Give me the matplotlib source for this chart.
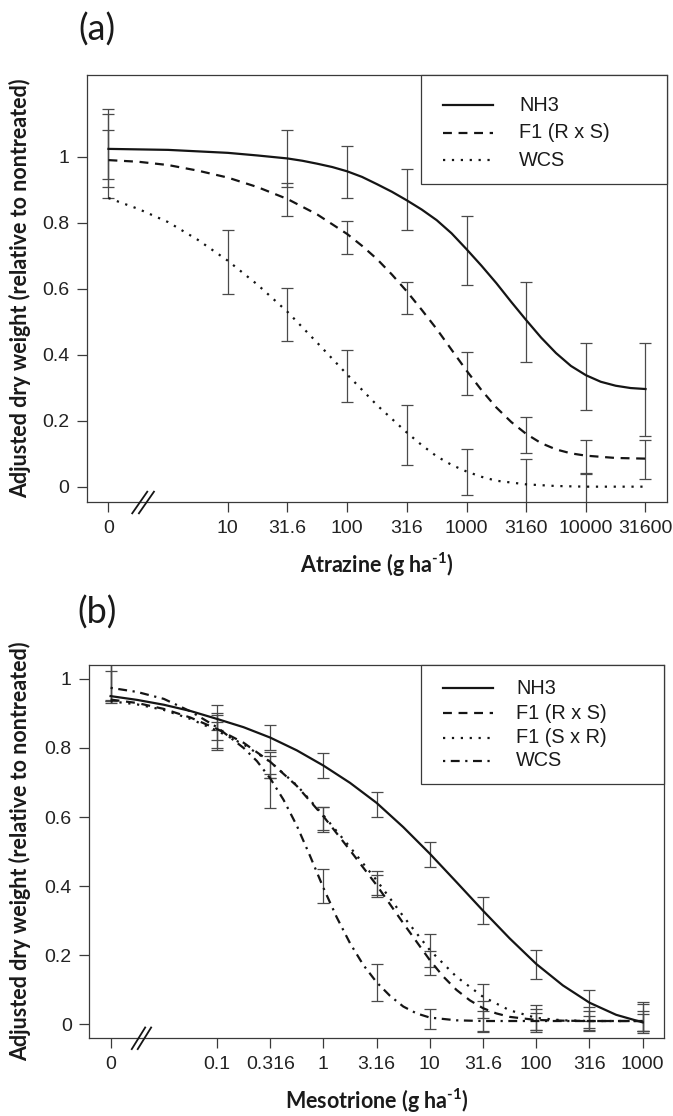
import numpy as np
import matplotlib
matplotlib.use("Agg")
import matplotlib.pyplot as plt
from matplotlib.lines import Line2D
from matplotlib.patches import Rectangle
from matplotlib.ticker import NullLocator
import matplotlib.transforms as mtransforms

W, H = 673, 1116

# ---------------- panel (a): atrazine ----------------
atz_dose = [0, 10, 31.6, 100, 316, 1000, 3160, 10000, 31600]
atz_ticklabels = ["0", "10", "31.6", "100", "316", "1000", "3160", "10000", "31600"]
atz_zero = 1.0  # where the 0 dose sits on the log axis

atz_nh3_mean = [1.027, np.nan, 0.994, 0.954, 0.870, 0.716, 0.499, 0.333, 0.294]
atz_nh3_se = [0.118, np.nan, 0.087, 0.080, 0.092, 0.104, 0.121, 0.102, 0.141]
atz_f1_mean = [1.007, np.nan, 0.872, 0.756, 0.572, 0.343, 0.157, 0.090, 0.083]
atz_f1_se = [0.074, np.nan, 0.050, 0.050, 0.048, 0.064, 0.055, 0.052, 0.059]
atz_wcs_mean = [1.003, 0.682, 0.523, 0.335, 0.157, 0.044, 0.000, -0.005, np.nan]
atz_wcs_se = [0.127, 0.097, 0.080, 0.078, 0.090, 0.070, 0.085, 0.045, np.nan]

# fitted curves (x = log10 dose)
atz_nh3_fit_x = [0, 0.5, 1, 1.25, 1.5, 1.625, 1.75, 1.875, 2, 2.125, 2.25, 2.375, 2.5,
                 2.625, 2.75, 2.875, 3, 3.125, 3.25, 3.375, 3.5, 3.625, 3.75, 3.875,
                 4, 4.125, 4.25, 4.375, 4.5]
atz_nh3_fit_y = [1.024, 1.021, 1.012, 1.004, 0.995, 0.988, 0.979, 0.969, 0.956, 0.939,
                 0.917, 0.894, 0.868, 0.840, 0.808, 0.768, 0.720, 0.670, 0.617, 0.560,
                 0.505, 0.452, 0.405, 0.366, 0.338, 0.318, 0.306, 0.299, 0.296]
atz_f1_fit_x = [0, 0.25, 0.5, 0.75, 1, 1.25, 1.5, 1.75, 2, 2.125, 2.25, 2.375, 2.5,
                2.625, 2.75, 2.875, 3, 3.125, 3.25, 3.375, 3.5, 3.625, 3.75, 3.875,
                4, 4.25, 4.5]
atz_f1_fit_y = [0.990, 0.985, 0.975, 0.958, 0.937, 0.908, 0.872, 0.825, 0.766, 0.730,
                0.690, 0.643, 0.592, 0.536, 0.478, 0.415, 0.352, 0.293, 0.240, 0.196,
                0.160, 0.132, 0.113, 0.101, 0.094, 0.087, 0.085]
atz_wcs_fit_x = [0, 0.25, 0.5, 0.75, 1, 1.25, 1.5, 1.75, 2, 2.25, 2.5, 2.625, 2.75,
                 2.875, 3, 3.125, 3.25, 3.5, 3.75, 4, 4.25, 4.5]
atz_wcs_fit_y = [0.875, 0.842, 0.802, 0.748, 0.685, 0.612, 0.530, 0.436, 0.340, 0.247,
                 0.164, 0.126, 0.092, 0.066, 0.046, 0.030, 0.018, 0.007, 0.002, 0.000,
                 0.000, 0.000]

# ---------------- panel (b): mesotrione ----------------
mes_dose = [0, 0.1, 0.316, 1, 3.16, 10, 31.6, 100, 316, 1000]
mes_ticklabels = ["0", "0.1", "0.316", "1", "3.16", "10", "31.6", "100", "316", "1000"]
mes_zero = 0.01

mes_nh3_mean = [1.000, 0.887, 0.830, 0.749, 0.636, 0.493, 0.330, 0.173, 0.055, 0.020]
mes_nh3_se = [0.065, 0.036, 0.035, 0.036, 0.036, 0.036, 0.040, 0.042, 0.046, 0.044]
mes_rs_mean = [1.000, 0.847, 0.750, 0.593, 0.410, 0.178, 0.022, 0.012, 0.010, 0.010]
mes_rs_se = [0.060, 0.047, 0.037, 0.036, 0.034, 0.036, 0.045, 0.034, 0.030, 0.030]
mes_sr_mean = [1.000, 0.835, 0.745, 0.595, 0.400, 0.215, 0.068, 0.020, 0.020, 0.020]
mes_sr_se = [0.070, 0.040, 0.033, 0.033, 0.032, 0.048, 0.048, 0.036, 0.030, 0.040]
mes_wcs_mean = [0.980, 0.861, 0.676, 0.400, 0.121, 0.015, 0.010, 0.008, 0.005, 0.005]
mes_wcs_se = [0.044, 0.039, 0.050, 0.050, 0.053, 0.029, 0.030, 0.024, 0.020, 0.025]

mes_quarter_x = [-2, -1.75, -1.5, -1.25, -1, -0.75, -0.5, -0.25, 0, 0.25, 0.5, 0.75,
                 1, 1.25, 1.5, 1.75, 2, 2.25, 2.5, 2.75, 3]
mes_nh3_fit_x = mes_quarter_x
mes_nh3_fit_y = [0.950, 0.939, 0.925, 0.907, 0.884, 0.860, 0.830, 0.793, 0.749, 0.699,
                 0.641, 0.571, 0.494, 0.412, 0.329, 0.249, 0.175, 0.113, 0.063, 0.028,
                 0.006]
mes_rs_fit_x = [-2, -1.75, -1.5, -1.25, -1, -0.75, -0.5, -0.25, 0, 0.25, 0.5, 0.75,
                1, 1.125, 1.25, 1.375, 1.5, 1.625, 1.75, 2, 2.25, 2.5, 2.75, 3]
mes_rs_fit_y = [0.940, 0.930, 0.913, 0.888, 0.855, 0.815, 0.760, 0.690, 0.602, 0.504,
                0.403, 0.293, 0.186, 0.139, 0.100, 0.070, 0.047, 0.032, 0.022, 0.013,
                0.011, 0.010, 0.010, 0.010]
mes_sr_fit_x = mes_quarter_x
mes_sr_fit_y = [0.935, 0.926, 0.910, 0.884, 0.850, 0.810, 0.760, 0.692, 0.605, 0.513,
                0.417, 0.313, 0.215, 0.138, 0.080, 0.041, 0.019, 0.012, 0.010, 0.010,
                0.010]
mes_wcs_fit_x = [-2, -1.75, -1.5, -1.25, -1, -0.75, -0.625, -0.5, -0.375, -0.25, -0.125,
                 0, 0.125, 0.25, 0.375, 0.5, 0.625, 0.75, 0.875, 1, 1.25, 1.5, 2, 2.5, 3]
mes_wcs_fit_y = [0.974, 0.962, 0.942, 0.906, 0.860, 0.800, 0.762, 0.712, 0.650, 0.575,
                 0.487, 0.395, 0.310, 0.235, 0.172, 0.122, 0.083, 0.052, 0.032, 0.020,
                 0.012, 0.010, 0.010, 0.010, 0.010]

# ---------------- styles ----------------
plt.rcParams['font.family'] = ['Liberation Sans', 'DejaVu Sans']
plt.rcParams['mathtext.fontset'] = 'custom'
plt.rcParams['mathtext.rm'] = 'Lato:bold'
plt.rcParams['mathtext.bf'] = 'Lato:bold'
plt.rcParams['lines.dash_capstyle'] = 'butt'

INK = '#151515'
AXC = '#3a3a3a'
LW = 1.6
STY = {
    'solid': '-',
    'dashed': (0, (4, 3)),
    'dotted': (0, (1, 3)),
    'dotdash': (0, (1, 2.5, 4, 2.5)),
}
LABEL_FONT = dict(family=['Lato', 'DejaVu Sans'], weight='bold', fontsize=15.5)


def px_axes(x0, y0, x1, y1):
    return [x0 / W, 1 - y1 / H, (x1 - x0) / W, (y1 - y0) / H]


def draw_panel(ax, dose, zero, ticklabels, series, xlim, ylim):
    xpos = np.where(np.array(dose) == 0, zero, np.array(dose, dtype=float))
    for mean, se, fx, fy, style in series:
        m = np.array(mean, dtype=float)
        s = np.array(se, dtype=float)
        ok = ~np.isnan(m)
        ax.errorbar(xpos[ok], m[ok], yerr=s[ok], fmt='none', ecolor='#4a4a4a',
                    elinewidth=0.9, capsize=4.3, capthick=0.9, zorder=2)
        ax.plot(10 ** np.array(fx), fy, color=INK, lw=LW, linestyle=STY[style], zorder=3)
    ax.set_xscale('log')
    ax.set_xlim(*xlim)
    ax.set_ylim(*ylim)
    ax.set_xticks(xpos)
    ax.set_xticklabels(ticklabels)
    ax.xaxis.set_minor_locator(NullLocator())
    ax.set_yticks([0, 0.2, 0.4, 0.6, 0.8, 1.0])
    ax.set_yticklabels(["0", "0.2", "0.4", "0.6", "0.8", "1"])
    ax.tick_params(direction='out', length=7.2, width=0.9, color=AXC,
                   labelsize=14, pad=5.5, labelcolor='#222222')
    for sp in ax.spines.values():
        sp.set_color(AXC)
        sp.set_linewidth(0.9)
    # axis break "//" between zero dose and first dose
    lz = np.log10(zero) + 0.29
    trans = mtransforms.blended_transform_factory(ax.transData, ax.transAxes)
    dy = 10.8 / (ax.get_position().height * H)
    for off in (-0.028, 0.028):
        xs = [10 ** (lz + off - 0.063), 10 ** (lz + off + 0.063)]
        ax.plot(xs, [-dy, dy], color=INK, lw=1.3, transform=trans,
                clip_on=False, zorder=5)


def draw_legend(ax, box, entries, ys, line_x, text_x):
    # box/lines given in figure pixels, converted to axes fractions
    pos = ax.get_position()
    ax_x0, ax_y1 = pos.x0 * W, (1 - pos.y1) * H
    aw, ah = pos.width * W, pos.height * H

    def fx(x):
        return (x - ax_x0) / aw

    def fy(y):
        return 1 - (y - ax_y1) / ah

    x0, y0, x1, y1 = box
    ax.add_patch(Rectangle((fx(x0), fy(y1)), fx(x1) - fx(x0), fy(y0) - fy(y1),
                           transform=ax.transAxes, facecolor='white',
                           edgecolor=AXC, lw=0.9, zorder=6, clip_on=False))
    for (label, style), y in zip(entries, ys):
        ax.add_line(Line2D([fx(line_x[0]), fx(line_x[1])], [fy(y), fy(y)],
                           transform=ax.transAxes, color=INK, lw=LW,
                           linestyle=STY[style], zorder=7))
        ax.text(fx(text_x), fy(y), label, transform=ax.transAxes, fontsize=14.3,
                ha='left', va='center', color='#1a1a1a', zorder=7)


fig = plt.figure(figsize=(W / 100, H / 100), dpi=100)

ax_a = fig.add_axes(px_axes(87, 75, 667, 502.5))
draw_panel(ax_a, atz_dose, atz_zero, atz_ticklabels,
           [(atz_nh3_mean, atz_nh3_se, atz_nh3_fit_x, atz_nh3_fit_y, 'solid'),
            (atz_f1_mean, atz_f1_se, atz_f1_fit_x, atz_f1_fit_y, 'dashed'),
            (atz_wcs_mean, atz_wcs_se, atz_wcs_fit_x, atz_wcs_fit_y, 'dotted')],
           (10 ** -0.18, 10 ** 4.68), (-0.048, 1.248))
draw_legend(ax_a, (421, 75, 667, 184),
            [("NH3", 'solid'), ("F1 (R x S)", 'dashed'), ("WCS", 'dotted')],
            [105, 132.5, 160], (443, 493), 519)

ax_b = fig.add_axes(px_axes(89.3, 665, 664, 1038.3))
draw_panel(ax_b, mes_dose, mes_zero, mes_ticklabels,
           [(mes_nh3_mean, mes_nh3_se, mes_nh3_fit_x, mes_nh3_fit_y, 'solid'),
            (mes_rs_mean, mes_rs_se, mes_rs_fit_x, mes_rs_fit_y, 'dashed'),
            (mes_sr_mean, mes_sr_se, mes_sr_fit_x, mes_sr_fit_y, 'dotted'),
            (mes_wcs_mean, mes_wcs_se, mes_wcs_fit_x, mes_wcs_fit_y, 'dotdash')],
           (10 ** -2.2, 10 ** 3.2), (-0.04, 1.04))
draw_legend(ax_b, (420.7, 665, 664, 784),
            [("NH3", 'solid'), ("F1 (R x S)", 'dashed'),
             ("F1 (S x R)", 'dotted'), ("WCS", 'dotdash')],
            [688.3, 713.3, 737.7, 760.7], (443.3, 493.3), 516)

# panel letters
fig.text(97 / W, 1 - 30 / H, "(a)", family=['Lato', 'DejaVu Sans'], fontsize=26,
         ha='center', va='center', color='#1a1a1a')
fig.text(97 / W, 1 - 613 / H, "(b)", family=['Lato', 'DejaVu Sans'], fontsize=26,
         ha='center', va='center', color='#1a1a1a')

# axis titles
ylab = "Adjusted dry weight (relative to nontreated)"
fig.text(20.5 / W, 1 - 288.7 / H, ylab, rotation=90, ha='center', va='center',
         color='#1a1a1a', **LABEL_FONT)
fig.text(20.5 / W, 1 - 851.6 / H, ylab, rotation=90, ha='center', va='center',
         color='#1a1a1a', **LABEL_FONT)
fig.text(377 / W, 1 - 565 / H, r"Atrazine (g ha$^{\text{-1}}$)", ha='center',
         va='center', color='#1a1a1a', **LABEL_FONT)
fig.text(376.7 / W, 1 - 1101 / H, r"Mesotrione (g ha$^{\text{-1}}$)", ha='center',
         va='center', color='#1a1a1a', **LABEL_FONT)

fig.savefig("out.png", dpi=100)
